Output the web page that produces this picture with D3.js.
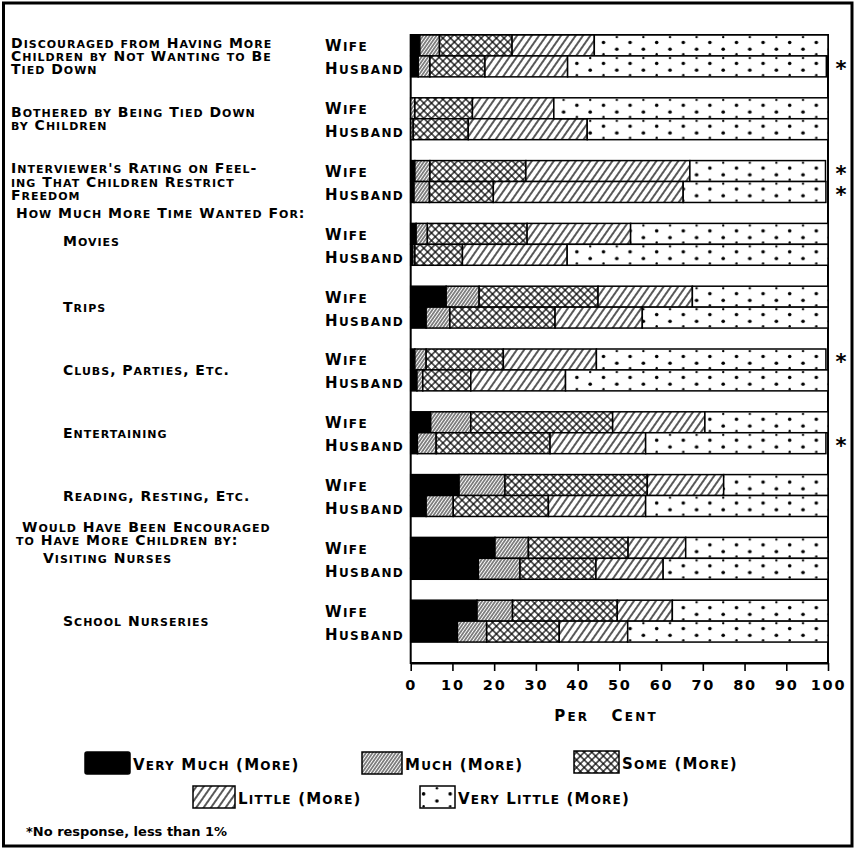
<!DOCTYPE html>
<html><head><meta charset="utf-8">
<script src="https://cdn.jsdelivr.net/npm/d3@7"></script>
<style>
body{margin:0;background:#fff}
svg{display:block}
text{font-family:"DejaVu Sans",sans-serif;font-weight:bold;fill:#000}
</style>
</head><body>
<svg id="chart" width="855" height="849"></svg>
<script>
// ---------------- DATA ----------------
const categoryLines = [
  ["Discouraged from Having More", "Children by Not Wanting to Be", "Tied Down"],
  ["Bothered by Being Tied Down", "by Children"],
  ["Interviewer's Rating on Feel-", "ing That Children Restrict", "Freedom"],
  ["Movies"],
  ["Trips"],
  ["Clubs, Parties, Etc."],
  ["Entertaining"],
  ["Reading, Resting, Etc."],
  ["Visiting Nurses"],
  ["School Nurseries"]
];
const headerLines = [
  {before: 3, lines: ["How Much More Time Wanted For:"]},
  {before: 8, lines: ["Would Have Been Encouraged", "to Have More Children by:"]}
];
const respondents = ["Wife", "Husband"];
const seriesNames = ["Very Much (More)", "Much (More)", "Some (More)", "Little (More)", "Very Little (More)"];
// values in per cent, order: [cat0 Wife, cat0 Husband, cat1 Wife, cat1 Husband, ...]
const veryMuch   = [2.2, 1.8,  0.0, 0.0,  1.0, 0.8,  1.3, 0.5,  8.5, 3.7,  1.0, 1.5,  4.8, 1.6,  11.6, 3.7,  20.2, 16.2,  15.9, 11.2];
const much       = [4.7, 2.8,  1.0, 0.6,  3.6, 3.7,  2.7, 0.5,  7.9, 5.7,  2.7, 1.4,  9.6, 4.5,  11.0, 6.5,   8.0, 10.0,   8.5,  7.0];
const some       = [17.4, 13.2, 13.8, 13.2, 23.0, 15.3, 23.9, 11.4, 28.5, 25.2, 18.5, 11.5, 34.0, 27.3, 34.1, 22.8, 23.9, 18.2, 25.1, 17.4];
const little     = [19.7, 19.8, 19.5, 28.5, 39.3, 45.5, 24.8, 25.1, 22.6, 20.9, 22.3, 22.7, 22.1, 22.9, 18.3, 23.3, 13.8, 16.1, 13.2, 16.4];
const veryLittle = [56.0, 62.0, 65.7, 57.7, 32.5, 34.2, 47.3, 62.5, 32.5, 44.5, 55.0, 62.9, 29.5, 43.2, 25.0, 43.7, 34.1, 39.5, 37.3, 48.0];
const noResponseRows = ["0-Husband", "2-Wife", "2-Husband", "5-Wife", "6-Husband"];
const tickValues = [0, 10, 20, 30, 40, 50, 60, 70, 80, 90, 100];
const axisTitle = "Per   Cent";
const footnote = "*No response, less than 1%";

// ---------------- HELPERS ----------------
// hand-lettered small caps: source capitals at full size, lower-case letters as smaller capitals
function smallCaps(textSel, str, big, small) {
  const runs = [];
  for (const ch of str) {
    const isSmall = /[a-z]/.test(ch);
    const last = runs[runs.length - 1];
    if (last && last.small === isSmall) last.t += ch; else runs.push({small: isSmall, t: ch});
  }
  runs.forEach(r => textSel.append("tspan").attr("font-size", r.small ? small : big).text(r.t.toUpperCase()));
  return textSel;
}

// ---------------- BUILD ----------------
const seriesKeys = ["veryMuch", "much", "some", "little", "veryLittle"];
const seriesArrays = [veryMuch, much, some, little, veryLittle];
const table = [];
categoryLines.forEach((c, i) => {
  respondents.forEach((r, j) => {
    const k = i * 2 + j;
    const row = {key: `${i}-${r}`, cat: i, resp: r};
    seriesKeys.forEach((s, si) => row[s] = seriesArrays[si][k]);
    table.push(row);
  });
});
const rowKeys = [];
categoryLines.forEach((c, i) => { rowKeys.push(`${i}-Wife`, `${i}-Husband`, `${i}-gap`); });

const svg = d3.select("#chart");
const x = d3.scaleLinear().domain([0, 100]).range([410.7, 828]);
const y = d3.scaleBand().domain(rowKeys).range([35, 663]).padding(0);
const bw = y.bandwidth();

// outer frame
svg.append("rect").attr("x", 3.5).attr("y", 3).attr("width", 848.5).attr("height", 843)
  .attr("fill", "#fff").attr("stroke", "#000").attr("stroke-width", 3);

// patterns
const defs = svg.append("defs");
function linePattern(id, spacing, sw, angle, cross) {
  const p = defs.append("pattern").attr("id", id).attr("patternUnits", "userSpaceOnUse")
    .attr("width", spacing).attr("height", spacing).attr("patternTransform", `rotate(${angle})`);
  p.append("rect").attr("width", spacing).attr("height", spacing).attr("fill", "#fff");
  [0, spacing].forEach(v => {
    p.append("line").attr("x1", v).attr("x2", v).attr("y1", -1).attr("y2", spacing + 1)
      .attr("stroke", "#000").attr("stroke-width", sw);
    if (cross) p.append("line").attr("y1", v).attr("y2", v).attr("x1", -1).attr("x2", spacing + 1)
      .attr("stroke", "#000").attr("stroke-width", sw);
  });
}
linePattern("p-much", 2.7, 0.9, 35, false);
linePattern("p-some", 5.4, 1.2, 45, true);
linePattern("p-little", 6, 1.3, 35, false);
function dotPattern(id, x0, y0, h) {
  const p = defs.append("pattern").attr("id", id).attr("patternUnits", "userSpaceOnUse")
    .attr("x", x0).attr("y", y0).attr("width", 26.6).attr("height", h);
  p.append("rect").attr("width", 26.6).attr("height", h).attr("fill", "#fff");
  const dots = [[6.6, h * 0.36, 1.8], [19.9, h * 0.68, 1.8], [19.9, h * 0.1, 1.2], [6.6, h * 0.92, 1.2]];
  dots.forEach(d => p.append("circle").attr("cx", d[0]).attr("cy", d[1]).attr("r", d[2]).attr("fill", "#000"));
}
dotPattern("p-vlittle", 410.7, 35, bw);
const fills = {veryMuch: "#000", much: "url(#p-much)", some: "url(#p-some)", little: "url(#p-little)", veryLittle: "url(#p-vlittle)"};

// plot frame
svg.append("rect").attr("x", x(0)).attr("y", y.range()[0]).attr("width", x(100) - x(0))
  .attr("height", y.range()[1] - y.range()[0]).attr("fill", "#fff").attr("stroke", "#000").attr("stroke-width", 2);

// stacked bars
const stacked = d3.stack().keys(seriesKeys)(table);
const gBars = svg.append("g");
stacked.forEach(layer => {
  gBars.append("g").selectAll("rect").data(layer.filter(d => d[1] - d[0] > 0)).join("rect")
    .attr("x", d => x(d[0]))
    .attr("y", d => y(d.data.key))
    .attr("width", d => x(d[1]) - x(d[0]))
    .attr("height", bw)
    .attr("fill", fills[layer.key])
    .attr("stroke", "#000").attr("stroke-width", 1.5);
});

// axis
const axis = d3.axisBottom(x).tickValues(tickValues).tickSize(8).tickSizeOuter(0).tickPadding(9);
const gAxis = svg.append("g").attr("transform", `translate(0,${y.range()[1]})`).call(axis);
gAxis.select(".domain").attr("stroke-width", 2);
gAxis.selectAll(".tick line").attr("stroke-width", 1.6);
gAxis.selectAll(".tick text").attr("font-size", 14.5).attr("letter-spacing", 1.8)
  .attr("font-family", "DejaVu Sans").attr("font-weight", "bold").attr("fill", "#000");

smallCaps(svg.append("text").attr("x", 606).attr("y", 721).attr("text-anchor", "middle")
  .attr("letter-spacing", 2.2).style("white-space", "pre"), axisTitle, 15, 12);

// respondent labels
svg.append("g").selectAll("text").data(table).join("text")
  .attr("x", 325).attr("y", d => y(d.key) + bw / 2 + (d.resp === "Wife" ? 6 : 8))
  .attr("letter-spacing", 1.4)
  .each(function(d) { smallCaps(d3.select(this), d.resp, 15, 12); });

// asterisks
svg.append("g").selectAll("text").data(noResponseRows).join("text")
  .attr("x", 841).attr("y", d => y(d) + bw / 2 + 10).attr("text-anchor", "middle")
  .attr("font-size", 21).text("*");

// category labels
const lh = 13.4;
const labelText = (xp, yp, t) => smallCaps(svg.append("text").attr("x", xp).attr("y", yp)
  .attr("letter-spacing", 1.0), t, 14, 11);
categoryLines.forEach((lines, i) => {
  const gTop = y(`${i}-Wife`);
  let cy = gTop + bw;
  if (i === 3) cy -= 3;
  const indent = i < 3 ? 11 : (i === 8 ? 43 : 63);
  lines.forEach((t, li) => labelText(indent, cy + (li - (lines.length - 1) / 2) * lh + 5, t));
});
headerLines.forEach(h => {
  const gapTop = y(`${h.before - 1}-gap`);
  h.lines.forEach((t, li) => labelText(h.lines.length > 1 && li === 0 ? 22 : 16, gapTop + bw / 2 + 5 + li * lh, t));
});

// legend
const legendItems = [
  {s: 0, x: 85, y: 752, w: 45},
  {s: 1, x: 362, y: 752, w: 40},
  {s: 2, x: 574, y: 751, w: 45},
  {s: 3, x: 193, y: 786, w: 42},
  {s: 4, x: 420, y: 786, w: 35}
];
legendItems.forEach(it => {
  const key = seriesKeys[it.s];
  let fill = fills[key];
  if (key === "veryLittle") { dotPattern("p-vl-leg", it.x - 3, it.y, 22); fill = "url(#p-vl-leg)"; }
  svg.append("rect").attr("x", it.x).attr("y", it.y).attr("width", it.w).attr("height", 22)
    .attr("fill", fill).attr("stroke", "#000").attr("stroke-width", 1.5).attr("rx", it.s === 0 ? 2 : 0);
  smallCaps(svg.append("text").attr("x", it.x + it.w + 3).attr("y", it.y + 18).attr("letter-spacing", 1.2),
    seriesNames[it.s], 15, 12);
});

svg.append("text").attr("x", 26).attr("y", 836).attr("font-size", 13).text(footnote);
</script>
</body></html>
